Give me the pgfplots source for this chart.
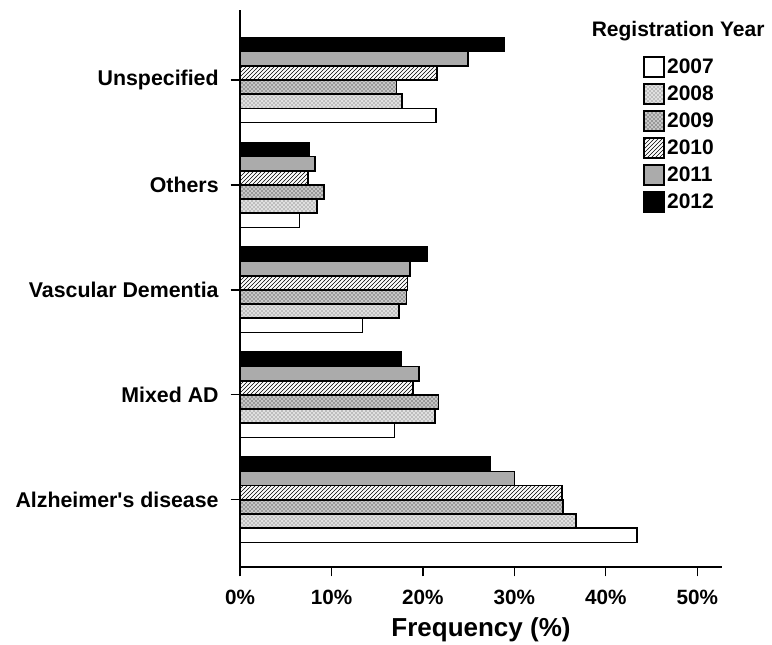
\documentclass[border=0pt]{standalone}
\usepackage{pgfplots}
\pgfplotsset{compat=1.18}
\usepackage{pgfplotstable}
\usetikzlibrary{patterns}
\usepackage{fontspec}
\setmainfont{Liberation Sans}

% frequency (%) by diagnosis; rows bottom to top
\pgfplotstableread{
pos y2007 y2008 y2009 y2010 y2011 y2012
0   43.4  36.7  35.3  35.2  30.0  27.3
1   16.9  21.3  21.7  18.9  19.6  17.6
2   13.4  17.4  18.2  18.3  18.6  20.5
3   6.5   8.45  9.2   7.4   8.2   7.6
4   21.4  17.7  17.1  21.5  24.95 28.9
}\freq

\begin{document}
\begin{tikzpicture}
\begin{axis}[
  width=361.5pt, height=417.75pt, scale only axis,
  xbar, bar width=0.1352,
  xmin=0, xmax=52.7, ymin=-0.64, ymax=4.667,
  axis x line*=bottom, axis y line*=left,
  axis line style={-, line width=0.9pt},
  xtick={0,10,...,50},
  xticklabel={\pgfmathprintnumber[assume math mode=true]{\tick}\%},
  ytick={0,...,4},
  yticklabels={Alzheimer\textquotesingle s disease, Mixed AD, Vascular Dementia, Others, Unspecified},
  tick align=outside, major tick length=7pt,
  tick style={line width=0.9pt, black},
  xticklabel style={font=\bfseries\fontsize{15.5}{18}\selectfont, yshift=-6.5pt},
  yticklabel style={font=\bfseries\fontsize{16}{18}\selectfont, xshift=-5.5pt},
  xlabel={Frequency (\%)},
  xlabel style={font=\bfseries\fontsize{19.5}{22}\selectfont, at={(axis description cs:0.5,-0.124)}, anchor=base},
  every axis plot/.append style={draw=black, line width=1.3pt},
  legend image code/.code={\draw[#1, line width=1.3pt] (0pt,-7.5pt) rectangle (15pt,7.5pt);},
  legend style={at={(0.828,0.923)}, anchor=north west, draw=none, fill=none,
    font=\bfseries\fontsize{15.75}{18}\selectfont, row sep=4pt,
    nodes={inner sep=1.5pt}},
  legend cell align=left,
  clip=false,
]
\addplot[fill=white, bar shift=-0.338] table[x=y2007, y=pos] {\freq};
\addplot[fill=black!12, postaction={pattern=crosshatch dots, pattern color=black!70}, bar shift=-0.2028] table[x=y2008, y=pos] {\freq};
\addplot[fill=black!22, postaction={pattern=crosshatch dots, pattern color=black}, bar shift=-0.0676] table[x=y2009, y=pos] {\freq};
\addplot[pattern=north east lines, pattern color=black, bar shift=0.0676] table[x=y2010, y=pos] {\freq};
\addplot[fill=black!33, bar shift=0.2028] table[x=y2011, y=pos] {\freq};
\addplot[fill=black, bar shift=0.338] table[x=y2012, y=pos] {\freq};
\legend{2007,2008,2009,2010,2011,2012}
\node[font=\bfseries\fontsize{15.75}{18}\selectfont] at (rel axis cs:0.909,0.962) {Registration Year};
\end{axis}
\pgfresetboundingbox
\path ([xshift=-180pt,yshift=-58.5pt]current axis.south west) rectangle ([xshift=37.5pt,yshift=7.5pt]current axis.north east);
\end{tikzpicture}
\end{document}
